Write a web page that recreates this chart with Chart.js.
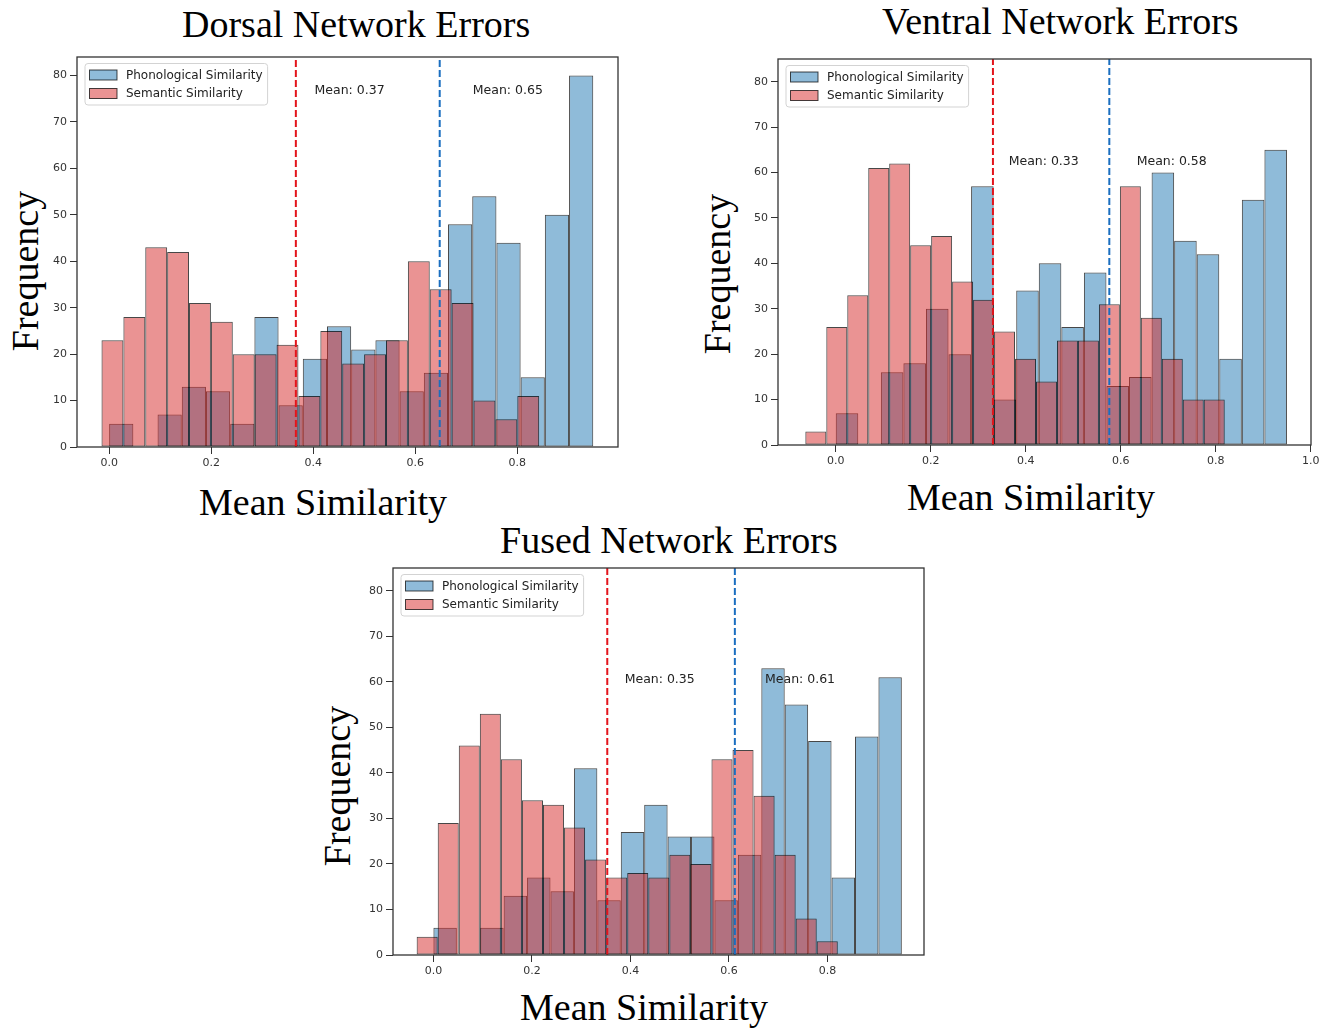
<!DOCTYPE html>
<html>
<head>
<meta charset="utf-8">
<title>Network Errors - similarity histograms</title>
<style>
  html, body { margin: 0; padding: 0; background: #fff; overflow: hidden; }
  #page { position: relative; width: 1325px; height: 1034px; }
  canvas { position: absolute; }
  .lab { position: absolute; font-family: "Liberation Serif", "Times New Roman", serif; font-size: 38px; line-height: 38px; color: #000; white-space: nowrap; }
  .rot { transform: translate(-50%, -50%) rotate(-90deg); }
</style>
</head>
<body>
<div id="page">
  <div class="lab" style="left:182px; top:5px;">Dorsal Network Errors</div>
  <div class="lab" style="left:882px; top:1.5px;">Ventral Network Errors</div>
  <div class="lab" style="left:500px; top:520.5px;">Fused Network Errors</div>

  <div class="lab" style="left:199px; top:482.7px;">Mean Similarity</div>
  <div class="lab" style="left:907px; top:478.2px;">Mean Similarity</div>
  <div class="lab" style="left:520px; top:988.2px;">Mean Similarity</div>

  <div class="lab rot" style="left:24.7px; top:271px;">Frequency</div>
  <div class="lab rot" style="left:717.2px; top:274px;">Frequency</div>
  <div class="lab rot" style="left:336.5px; top:786px;">Frequency</div>

  <canvas id="dorsal" width="627" height="434" style="left:7px; top:45px;"></canvas>
  <canvas id="ventral" width="619" height="430" style="left:708px; top:47px;"></canvas>
  <canvas id="fused" width="617" height="431" style="left:323px; top:556px;"></canvas>
</div>

<script src="https://cdn.jsdelivr.net/npm/chart.js"></script>
<script>
// counts per bin (20 bins each)
const dorsalPhon = [5, 0, 7, 13, 12, 5, 28, 9, 19, 26, 21, 23, 12, 16, 48, 54, 44, 15, 50, 80];
const dorsalSem  = [23, 28, 43, 42, 31, 27, 20, 20, 22, 11, 25, 18, 20, 23, 40, 34, 31, 10, 6, 11];
const ventralPhon = [7, 0, 16, 18, 30, 20, 57, 10, 34, 40, 26, 38, 13, 15, 60, 45, 42, 19, 54, 65];
const ventralSem  = [3, 26, 33, 61, 62, 44, 46, 36, 32, 25, 19, 14, 23, 23, 31, 57, 28, 19, 10, 10];
const fusedPhon = [6, 0, 6, 13, 17, 14, 41, 12, 27, 33, 26, 26, 12, 22, 63, 55, 47, 17, 48, 61];
const fusedSem  = [4, 29, 46, 53, 43, 34, 33, 28, 21, 17, 18, 17, 22, 20, 43, 45, 35, 22, 8, 3];

// histogram range [first edge, last edge] of each series
const dorsalPhonRange = [0.0, 0.949];
const dorsalSemRange  = [-0.015, 0.843];
const ventralPhonRange = [0.0, 0.950];
const ventralSemRange  = [-0.064, 0.819];
const fusedPhonRange = [0.0, 0.951];
const fusedSemRange  = [-0.034, 0.821];

// mean similarity lines [semantic, phonological]
const dorsalMeans  = [0.366, 0.648];
const ventralMeans = [0.331, 0.576];
const fusedMeans   = [0.353, 0.612];

// axis limits and tick labels
const dorsalX  = [-0.063, 0.9975];
const ventralX = [-0.1215, 1.0006];
const fusedX   = [-0.082, 0.996];
const xTicksShort = [0.0, 0.2, 0.4, 0.6, 0.8];
const xTicksLong  = [0.0, 0.2, 0.4, 0.6, 0.8, 1.0];
const yTicks = [0, 10, 20, 30, 40, 50, 60, 70, 80];

const PHON_FILL = 'rgba(31, 119, 180, 0.5)';
const SEM_FILL  = 'rgba(214, 39, 40, 0.5)';
const EDGE      = 'rgba(0, 0, 0, 0.72)';

function binPoints(counts, range) {
  const w = (range[1] - range[0]) / counts.length;
  return counts.map((c, i) => ({x: range[0] + (i + 0.5) * w, y: c}));
}

// dashed mean lines, their labels, the axes box and a matplotlib-like legend
const histDecor = {
  id: 'histDecor',
  afterDatasetsDraw(chart, args, opts) {
    const ctx = chart.ctx;
    const a = chart.chartArea;
    const x = chart.scales.x, y = chart.scales.y;
    ctx.save();

    opts.means.forEach((m, i) => {
      const px = x.getPixelForValue(m);
      ctx.strokeStyle = i === 0 ? '#e3141b' : '#1a6ec0';
      ctx.lineWidth = 2;
      ctx.setLineDash([7, 3]);
      ctx.beginPath();
      ctx.moveTo(px, a.bottom);
      ctx.lineTo(px, a.top);
      ctx.stroke();
    });
    ctx.setLineDash([]);

    ctx.font = '12.5px "DejaVu Sans"';
    ctx.fillStyle = '#222';
    ctx.textAlign = 'left';
    ctx.textBaseline = 'alphabetic';
    opts.means.forEach(m => {
      ctx.fillText('Mean: ' + m.toFixed(2), x.getPixelForValue(m * 1.1), y.getPixelForValue(opts.textY));
    });

    ctx.strokeStyle = '#333';
    ctx.lineWidth = 1.3;
    ctx.strokeRect(a.left, a.top, a.right - a.left, a.bottom - a.top);

    // legend box in the upper left corner
    const ds = chart.data.datasets;
    ctx.font = '12px "DejaVu Sans"';
    const tw = Math.max(...ds.map(d => ctx.measureText(d.label).width));
    const lx = a.left + 8, ly = a.top + 6.5;
    const bw = 41 + tw + 5, bh = 41.5;
    ctx.beginPath();
    if (ctx.roundRect) ctx.roundRect(lx, ly, bw, bh, 3); else ctx.rect(lx, ly, bw, bh);
    ctx.fillStyle = 'rgba(255,255,255,0.8)';
    ctx.fill();
    ctx.strokeStyle = '#d3d3d3';
    ctx.lineWidth = 1;
    ctx.stroke();
    ctx.textBaseline = 'middle';
    ds.forEach((d, i) => {
      const cy = ly + 11.5 + i * 18.5;
      ctx.fillStyle = d.backgroundColor;
      ctx.fillRect(lx + 4.5, cy - 5, 27.5, 10);
      ctx.strokeStyle = d.borderColor;
      ctx.strokeRect(lx + 4.5, cy - 5, 27.5, 10);
      ctx.fillStyle = '#222';
      ctx.fillText(d.label, lx + 41, cy + 0.5);
    });
    ctx.restore();
  }
};

function histogram(id, phon, phonRange, sem, semRange, means, xLim, xTicks, yMax) {
  const setX = s => { s.ticks = xTicks.map(v => ({value: v})); };
  const allCounts = phon.concat(sem);
  const barStyle = {
    borderColor: EDGE,
    borderWidth: 1,
    borderSkipped: false,
    inflateAmount: 0,
    grouped: false,
    barPercentage: 1,
    categoryPercentage: 1
  };
  return new Chart(document.getElementById(id), {
    type: 'bar',
    data: {
      datasets: [
        Object.assign({label: 'Phonological Similarity', data: binPoints(phon, phonRange),
          xAxisID: 'x', backgroundColor: PHON_FILL, order: 1}, barStyle),
        Object.assign({label: 'Semantic Similarity', data: binPoints(sem, semRange),
          xAxisID: 'xr', backgroundColor: SEM_FILL, order: 0}, barStyle)
      ]
    },
    options: {
      responsive: false,
      animation: false,
      events: [],
      layout: {padding: {left: 0, top: 12, right: 16, bottom: 0}},
      scales: {
        x: {
          type: 'linear', min: xLim[0], max: xLim[1], offset: false,
          afterBuildTicks: setX,
          afterFit: s => { s.height = 32; },
          grid: {display: true, drawOnChartArea: false, drawTicks: true, tickLength: 7, color: '#333', offset: false},
          border: {display: false},
          ticks: {padding: 3, color: '#333', font: {family: 'DejaVu Sans', size: 11}, maxRotation: 0,
                  callback: v => Number(v).toFixed(1)}
        },
        xr: {
          type: 'linear', min: xLim[0], max: xLim[1], offset: false, display: false,
          afterBuildTicks: setX,
          grid: {offset: false}
        },
        y: {
          type: 'linear', min: 0, max: yMax,
          afterBuildTicks: s => { s.ticks = yTicks.map(v => ({value: v})); },
          afterFit: s => { s.width = 70; },
          grid: {display: true, drawOnChartArea: false, drawTicks: true, tickLength: 7, color: '#333'},
          border: {display: false},
          ticks: {padding: 3, color: '#333', font: {family: 'DejaVu Sans', size: 11}}
        }
      },
      plugins: {
        legend: {display: false},
        tooltip: {enabled: false},
        histDecor: {means: means, textY: 0.95 * Math.max(...allCounts)}
      }
    },
    plugins: [histDecor]
  });
}

histogram('dorsal', dorsalPhon, dorsalPhonRange, dorsalSem, dorsalSemRange, dorsalMeans, dorsalX, xTicksShort, 84);
histogram('ventral', ventralPhon, ventralPhonRange, ventralSem, ventralSemRange, ventralMeans, ventralX, xTicksLong, 85);
histogram('fused', fusedPhon, fusedPhonRange, fusedSem, fusedSemRange, fusedMeans, fusedX, xTicksShort, 85);
</script>
</body>
</html>
